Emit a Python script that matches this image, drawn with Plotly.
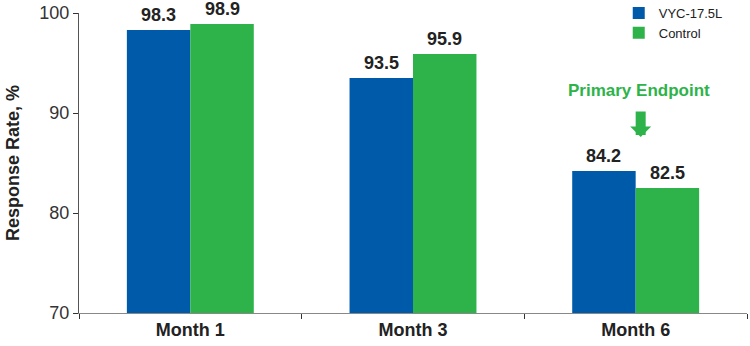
import plotly.graph_objects as go

categories = ["Month 1", "Month 3", "Month 6"]
vyc_values = [98.3, 93.5, 84.2]
control_values = [98.9, 95.9, 82.5]
series_names = ["VYC-17.5L", "Control"]
y_ticks = [70, 80, 90, 100]

BLUE = "#005AAA"
GREEN = "#2DB34A"
FONT = "Liberation Sans, Arial, sans-serif"

W, H = 750, 346
ML, MR, MT, MB = 79, 3, 13, 33
BARGAP = 0.43
bar_px = (W - ML - MR) / len(categories) * (1 - BARGAP) / 2

fig = go.Figure()
series = [(series_names[0], vyc_values, BLUE), (series_names[1], control_values, GREEN)]
for name, vals, col in series:
    fig.add_trace(go.Bar(
        x=categories, y=vals, name=name, marker=dict(color=col, line=dict(width=0)),
    ))

# value labels above the bars
for i, (name, vals, col) in enumerate(series):
    for c, v in zip(categories, vals):
        fig.add_annotation(
            x=c, y=v, xref="x", yref="y", text=f"<b>{v:.1f}</b>", showarrow=False,
            xshift=(i - 0.5) * bar_px, yanchor="bottom", yshift=3,
            font=dict(family=FONT, size=18, color="#222222"),
        )

fig.add_annotation(
    x="Month 6", y=87.6, xref="x", yref="y",
    ax="Month 6", ay=90.3, axref="x", ayref="y",
    text="", showarrow=True, arrowhead=1, arrowsize=0.35, arrowwidth=10,
    arrowcolor=GREEN, xshift=5,
)
fig.add_annotation(
    x="Month 6", y=92.3, xref="x", yref="y", text="<b>Primary Endpoint</b>",
    showarrow=False, font=dict(family=FONT, size=17, color=GREEN), yanchor="middle",
    xshift=3,
)

fig.update_layout(
    width=W, height=H,
    margin=dict(l=ML, r=MR, t=MT, b=MB, autoexpand=False),
    paper_bgcolor="white", plot_bgcolor="white",
    barmode="group", bargap=BARGAP, bargroupgap=0,
    font=dict(family=FONT, color="#333333"),
    showlegend=True,
    legend=dict(x=0.808, y=1.05, xanchor="left", yanchor="top",
                font=dict(family=FONT, size=13, color="#222222"),
                bgcolor="rgba(0,0,0,0)", tracegroupgap=0, itemwidth=30),
    xaxis=dict(
        type="category", tickson="boundaries", ticks="outside", ticklen=5,
        tickcolor="#333333", showline=True, linecolor="#888888", linewidth=1,
        tickfont=dict(family=FONT, size=18, color="#222222"),
        tickvals=categories, ticktext=[f"<b>{c}</b>" for c in categories],
        showgrid=False,
    ),
    yaxis=dict(
        range=[70, 100], tickvals=y_ticks, ticks="outside", ticklen=5,
        tickcolor="#333333", showline=True, linecolor="#555555", linewidth=1,
        tickfont=dict(family=FONT, size=18, color="#333333"), showgrid=False,
        zeroline=False,
        title=dict(text="<b>Response Rate, %</b>", font=dict(family=FONT, size=18, color="#222222"), standoff=15),
    ),
)

fig.write_html("out.html", config={"displayModeBar": False},
               post_script="document.body.style.margin='0';")
